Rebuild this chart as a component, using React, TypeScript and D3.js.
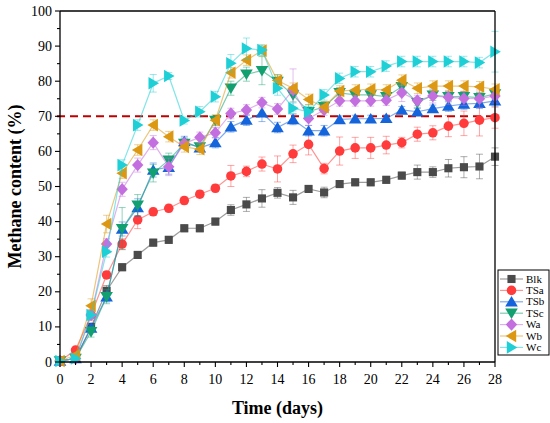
import * as d3 from "d3";

const days = d3.range(0, 29);

const blk = [0.3, 1, 10, 20.3, 27, 30.5, 34, 34.8, 38.1, 38.1, 40, 43.3, 44.9, 46.6, 48.2, 46.9, 49.3, 48.3, 50.7, 51.2, 51.2, 51.9, 53.1, 54.1, 54.1, 55.2, 55.5, 55.7, 58.5];
const blkErr = [0.3, 0.5, 1, 1.5, 1, 1, 1, 1, 1, 1, 1, 1.5, 2, 2.5, 1.5, 2, 1, 1.5, 1, 1, 1, 1, 1, 2, 1.5, 2.5, 3, 3.5, 2.5];

const tsa = [0.3, 3.4, 13.4, 24.8, 33.6, 40.5, 42.8, 43.8, 46, 47.8, 49.5, 53, 54.3, 56.4, 55, 59.3, 62, 55.1, 60.1, 61, 61, 61.8, 62.5, 64.9, 65.3, 67.2, 68, 68.9, 69.6];
const tsaErr = [0.3, 0.8, 1.5, 1, 1.5, 2.5, 1, 1, 1, 1, 1, 3, 1.5, 2, 3.7, 2.5, 3, 1.5, 4, 3, 3, 2.5, 1.5, 2, 2, 3, 3.5, 4.5, 3];

const tsb = [0.3, 1, 9.7, 18.6, 37.9, 44, 54.7, 55.5, 62.8, 61, 62.5, 67, 68.9, 71, 66.8, 69.1, 65.9, 65.9, 69.1, 69.3, 69.3, 69.4, 71.8, 71.3, 72.2, 72.9, 73.5, 73.7, 74.4];
const tsbErr = [0.3, 0.5, 1, 1.5, 2, 2.5, 2, 2, 1.5, 1, 1.5, 1.5, 1.5, 2.5, 1.5, 1.5, 1.5, 1.5, 1, 1, 1, 1, 1, 1, 1, 1.5, 1.5, 1.5, 1.5];

const tsc = [0.3, 1, 8.6, 18.6, 38, 44.7, 53.8, 57.5, 62.3, 61.3, 68.8, 78, 82, 83, 79.9, 76.1, 71.3, 72.7, 76.7, 76.1, 76.1, 75.6, 78.4, 73.9, 76, 75.6, 75.6, 75.3, 76.4];
const tscErr = [0.3, 0.5, 1.5, 2, 6, 3, 2.5, 2, 1.5, 1, 1.5, 2, 2, 4, 2, 2, 2, 1.5, 1.5, 1.5, 1.5, 1.5, 1.5, 1.5, 1.5, 1.5, 1.5, 1.5, 1.5];

const wa = [0.3, 1, 13.4, 33.6, 49.2, 56.1, 62.5, 55.6, 62.3, 64, 65.3, 70.8, 71.8, 73.9, 72.1, 77.5, 69.4, 71.8, 74.4, 74.4, 74.4, 74.6, 76.7, 74.5, 75.8, 75.4, 75.1, 75, 75.8];
const waErr = [0.3, 0.5, 1, 1.5, 2, 2, 2, 2.5, 1.5, 1.5, 1.5, 1.5, 1.5, 1.5, 1.5, 6, 2, 1.5, 1.5, 1.5, 1.5, 1.5, 2.5, 1.5, 2, 2, 2, 2.5, 2];

const wb = [0.3, 2, 16, 39.3, 53.8, 60.4, 67.5, 64.2, 61.3, 60.6, 68.9, 82.4, 86, 88.7, 80.2, 78, 74.8, 72.6, 77.2, 77.5, 77.7, 77.5, 80.3, 78, 78.6, 78.6, 78.6, 78.4, 77.7];
const wbErr = [0.3, 0.5, 2, 2.5, 1.5, 1.5, 1.5, 1.5, 1.5, 1.5, 1.5, 1.5, 1.5, 1.5, 1.5, 1.5, 1.5, 1.5, 1.5, 1.5, 1.5, 1.5, 1.5, 1.5, 1.5, 1.5, 1.5, 1.5, 1.5];

const wc = [0.3, 1, 13.4, 31.4, 56.1, 67.5, 79.4, 81.5, 68.8, 71.3, 75.6, 85.1, 89.3, 88.9, 78, 72.3, 71.3, 76.1, 80.8, 82.7, 82.7, 84.3, 85.6, 85.6, 85.6, 85.6, 85.6, 85.3, 88.4];
const wcErr = [0.3, 0.5, 1, 1.5, 1.5, 1.5, 2.5, 1, 1, 1.5, 1.5, 2.5, 3, 1.5, 2, 1.5, 1.5, 1.5, 1.5, 1.5, 1.5, 1.5, 1.5, 1.5, 1.5, 1.5, 1.5, 1.5, 5.8];

const seriesNames = ["Blk", "TSa", "TSb", "TSc", "Wa", "Wb", "Wc"];
const seriesValues = [blk, tsa, tsb, tsc, wa, wb, wc];
const seriesErrors = [blkErr, tsaErr, tsbErr, tscErr, waErr, wbErr, wcErr];
const seriesColors = ["#4a4a4a", "#ff3b3b", "#1464dc", "#12a070", "#c46fe0", "#dc9812", "#1ecfd6"];
const seriesShapes = ["square", "circle", "up", "down", "diamond", "left", "right"];

const xTicks = d3.range(0, 29, 2);
const yTicks = d3.range(0, 101, 10);
const threshold = 70;

const margin = { top: 11, right: 55, bottom: 61, left: 60 };
const width = 550;
const height = 423;
const serif = "Liberation Serif";

function markerPath(shape: string) {
  switch (shape) {
    case "square":
      return d3.symbol(d3.symbolSquare, 66)()!;
    case "circle":
      return d3.symbol(d3.symbolCircle, 72)()!;
    case "diamond":
      return "M0,-6.2L5.7,0L0,6.2L-5.7,0Z";
    default:
      return "M0,-5.8L6.3,4.7L-6.3,4.7Z";
  }
}

function markerRotate(shape: string) {
  if (shape === "down") return 180;
  if (shape === "left") return -90;
  if (shape === "right") return 90;
  return 0;
}

const Marker = ({ shape, color, x, y }: { shape: string; color: string; x: number; y: number }) => (
  <path
    d={markerPath(shape)}
    transform={`translate(${x},${y}) rotate(${markerRotate(shape)})`}
    fill={color}
  />
);

export default function App() {
  const x = d3.scaleLinear().domain([0, 28]).range([margin.left, width - margin.right]);
  const y = d3.scaleLinear().domain([0, 100]).range([height - margin.bottom, margin.top]);
  const x0 = x(0);
  const x1 = x(28);
  const y0 = y(0);
  const y1 = y(100);
  const line = d3
    .line<number>()
    .x((_, i) => x(days[i]))
    .y((d) => y(d));

  const legendX = 498;
  const legendY = 270;

  return (
    <svg width={width} height={height} style={{ position: "absolute", left: 0, top: 0 }}>
      <rect width={width} height={height} fill="#fff" />

      <line x1={x0 - 3} x2={x1} y1={y(threshold)} y2={y(threshold)} stroke="#c00000" strokeWidth={2} strokeDasharray="8,5" />

      {seriesValues.map((vals, si) => {
        const c = seriesColors[si];
        return (
          <g key={seriesNames[si]}>
            <path d={line(vals)!} fill="none" stroke={c} strokeOpacity={0.55} strokeWidth={1.2} />
            {vals.map((v, i) => {
              const e = seriesErrors[si][i];
              const cx = x(days[i]);
              return (
                <g key={i} stroke={c} strokeOpacity={0.45} strokeWidth={1}>
                  <line x1={cx} x2={cx} y1={y(v - e)} y2={y(v + e)} />
                  <line x1={cx - 3.5} x2={cx + 3.5} y1={y(v - e)} y2={y(v - e)} />
                  <line x1={cx - 3.5} x2={cx + 3.5} y1={y(v + e)} y2={y(v + e)} />
                </g>
              );
            })}
            {vals.map((v, i) => (
              <Marker key={i} shape={seriesShapes[si]} color={c} x={x(days[i])} y={y(v)} />
            ))}
          </g>
        );
      })}

      <g stroke="#000" fill="none">
        <line x1={x0} x2={x1} y1={y1} y2={y1} strokeWidth={1.3} />
        <line x1={x1} x2={x1} y1={y1} y2={y0} strokeWidth={1.3} />
        <line x1={x0} x2={x0} y1={y1} y2={y0} strokeWidth={1.3} />
        <line x1={x0} x2={x1} y1={y0} y2={y0} strokeWidth={1.3} />
        {d3.range(0, 29).map((d) => (
          <line key={"xt" + d} x1={x(d)} x2={x(d)} y1={y0} y2={y0 + (d % 2 === 0 ? 5 : 3)} strokeWidth={1.1} />
        ))}
        {d3.range(0, 101, 5).map((v) => (
          <line key={"yt" + v} x1={x0} x2={x0 - (v % 10 === 0 ? 5 : 3)} y1={y(v)} y2={y(v)} strokeWidth={1.1} />
        ))}
      </g>

      <g fontFamily={serif} fill="#000">
        {xTicks.map((d) => (
          <text key={"xl" + d} x={x(d)} y={y0 + 22} textAnchor="middle" fontSize={14}>
            {d}
          </text>
        ))}
        {yTicks.map((v) => (
          <text key={"yl" + v} x={x0 - 8} y={y(v) + 4.5} textAnchor="end" fontSize={14}>
            {v}
          </text>
        ))}

        <text x={(x0 + x1) / 2} y={414} textAnchor="middle" fontSize={18} fontWeight="bold" fontFamily={serif}>
          Time (days)
        </text>
        <text
          transform={`translate(21,${(y0 + y1) / 2}) rotate(-90)`}
          textAnchor="middle"
          fontSize={18}
          fontWeight="bold"
          fontFamily={serif}
        >
          Methane content (%)
        </text>
      </g>

      <g transform={`translate(${legendX},${legendY})`}>
        <rect x={0} y={0} width={51} height={85} fill="#fff" stroke="#000" strokeWidth={1} />
        {seriesNames.map((n, i) => {
          const ly = 9 + i * 11.4;
          const c = seriesColors[i];
          return (
            <g key={n}>
              <line x1={2} x2={25} y1={ly} y2={ly} stroke={c} strokeOpacity={0.55} strokeWidth={1.2} />
              <g transform="translate(13.5,0)">
                <Marker shape={seriesShapes[i]} color={c} x={0} y={ly} />
              </g>
              <text x={28} y={ly + 3.5} fontSize={11} fontFamily={serif}>
                {n}
              </text>
            </g>
          );
        })}
      </g>
    </svg>
  );
}
